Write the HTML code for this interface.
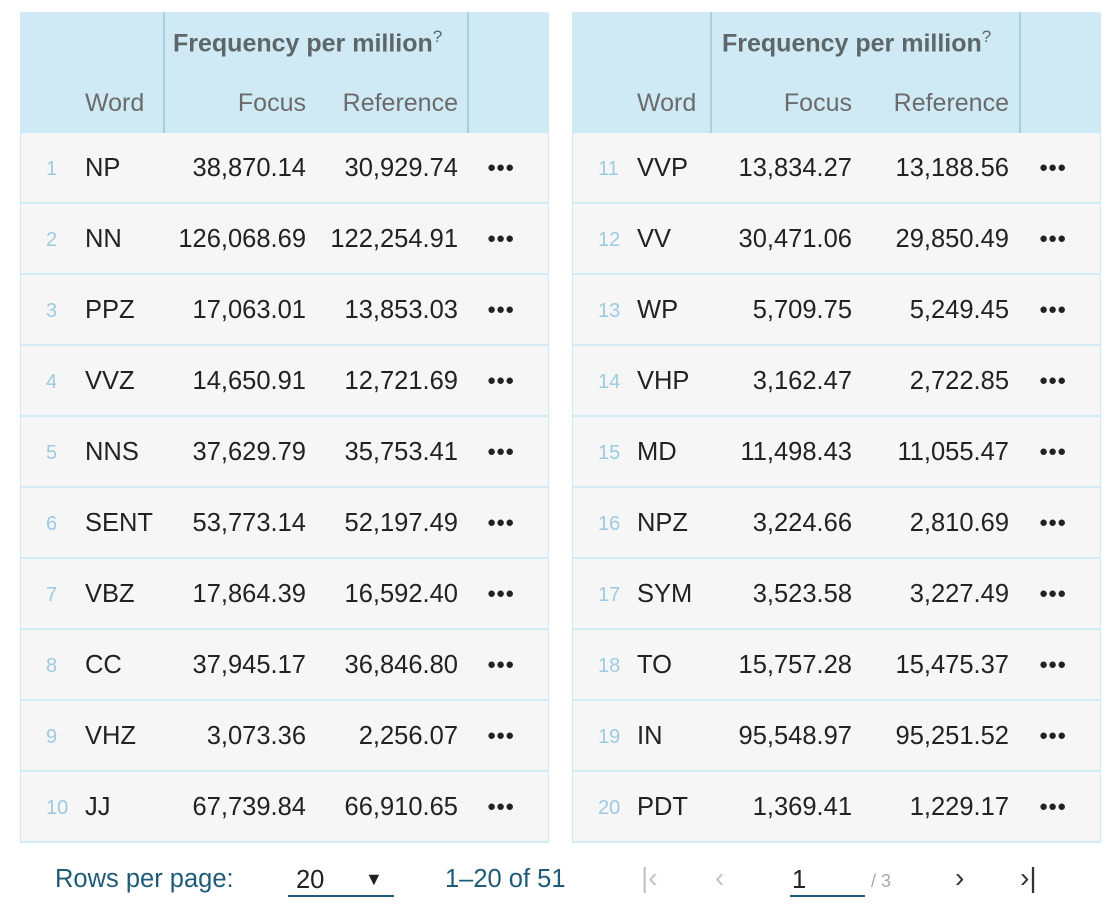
<!DOCTYPE html><html><head><style>
body{margin:0;width:1113px;height:916px;background:#fff;font-family:"Liberation Sans",Arial,sans-serif;position:relative;overflow:hidden}
.t{position:absolute;top:12px;width:529px;height:831px;background:#f6f6f6;border-left:1px solid #cfe9f3;border-right:1px solid #cfe9f3;border-bottom:2px solid #d2ebf4;box-sizing:border-box}
.h{position:absolute;left:0;top:0;width:100%;height:121px;background:#cfeaf4;border-radius:3px 3px 0 0}
.v{position:absolute;top:0;height:121px;width:2px;background:#a9d0df}
.a{position:absolute;white-space:nowrap}
.hb{font-weight:bold;font-size:25px;color:#5d6769;top:15px}
.hl{font-size:25px;color:#6b6b6b;top:77px}
.r{position:absolute;left:0;width:100%;height:71px;border-bottom:2px solid #d2ebf4;box-sizing:border-box}
.r span{position:absolute;top:21px;font-size:25.5px;color:#222;white-space:nowrap}
.r .i{font-size:20px;color:#9ccbe0;top:25px}
.r .d{font-size:15px;letter-spacing:0px;top:26px}
.p{position:absolute;font-size:25.5px;white-space:nowrap}
</style></head><body>
<div class="t" id="L" style="left:20px">
<div class="h"></div>
<div class="v" style="left:142px"></div><div class="v" style="left:446px"></div>
<div class="a hb" style="left:152px">Frequency per million<sup style="font-weight:normal;font-size:17px">?</sup></div>
<div class="a hl" style="left:64px">Word</div>
<div class="a hl" style="right:242px">Focus</div>
<div class="a hl" style="right:90px">Reference</div>
</div>
<div class="t" id="R" style="left:572px">
<div class="h"></div>
<div class="v" style="left:137px"></div><div class="v" style="left:446px"></div>
<div class="a hb" style="left:149px">Frequency per million<sup style="font-weight:normal;font-size:17px">?</sup></div>
<div class="a hl" style="left:64px">Word</div>
<div class="a hl" style="right:248px">Focus</div>
<div class="a hl" style="right:91px">Reference</div>
</div>
<script>
var L=[["NP","38,870.14","30,929.74"],["NN","126,068.69","122,254.91"],["PPZ","17,063.01","13,853.03"],["VVZ","14,650.91","12,721.69"],["NNS","37,629.79","35,753.41"],["SENT","53,773.14","52,197.49"],["VBZ","17,864.39","16,592.40"],["CC","37,945.17","36,846.80"],["VHZ","3,073.36","2,256.07"],["JJ","67,739.84","66,910.65"]];
var R=[["VVP","13,834.27","13,188.56"],["VV","30,471.06","29,850.49"],["WP","5,709.75","5,249.45"],["VHP","3,162.47","2,722.85"],["MD","11,498.43","11,055.47"],["NPZ","3,224.66","2,810.69"],["SYM","3,523.58","3,227.49"],["TO","15,757.28","15,475.37"],["IN","95,548.97","95,251.52"],["PDT","1,369.41","1,229.17"]];
function f(id,d,o,il,fr,rr,dl){var e=document.getElementById(id),h="";d.forEach(function(x,k){var top=121+k*71;h+='<div class="r" style="top:'+top+'px'+(k==9?';border-bottom:none':'')+'"><span class="i" style="left:'+il+'px">'+(k+o)+'</span><span style="left:64px">'+x[0]+'</span><span style="right:'+fr+'px">'+x[1]+'</span><span style="right:'+rr+'px">'+x[2]+'</span><span class="d" style="left:'+dl+'px">&#9679;&#9679;&#9679;</span></div>';});e.insertAdjacentHTML('beforeend',h);}
f("L",L,1,25,242,90,466);f("R",R,11,25,248,91,466);
</script>
<div class="p" style="left:55px;top:865px;color:#1f5b78">Rows per page:</div>
<div class="p" style="left:296px;top:866px;color:#222">20</div>
<div class="p" style="left:365px;top:869px;font-size:18px;color:#222">&#9660;</div>
<div style="position:absolute;left:288px;top:895px;width:106px;height:2px;background:#1f5b78"></div>
<div class="p" style="left:445px;top:865px;color:#1f5b78">1–20 of 51</div>
<div class="p" style="left:641px;top:862px;font-size:28px;color:#c4c4c4">|‹</div>
<div class="p" style="left:715px;top:862px;font-size:28px;color:#c4c4c4">‹</div>
<div class="p" style="left:792px;top:866px;color:#222">1</div>
<div style="position:absolute;left:790px;top:895px;width:75px;height:2px;background:#1f5b78"></div>
<div class="p" style="left:871px;top:871px;font-size:18px;color:#aaa">/ 3</div>
<div class="p" style="left:955px;top:862px;font-size:28px;color:#333">›</div>
<div class="p" style="left:1020px;top:862px;font-size:28px;color:#333">›|</div>
</body></html>
